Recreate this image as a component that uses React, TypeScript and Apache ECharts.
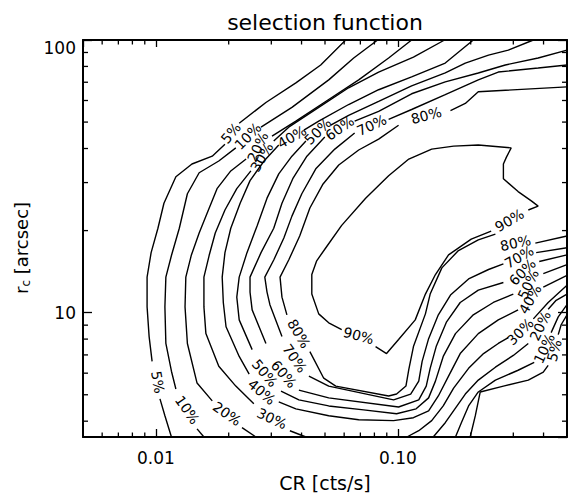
import React, { useEffect, useRef } from 'react';
import * as echarts from 'echarts';

// ---------- axes ----------
const xRange = [0.005, 0.5];
const yRange = [3.5, 100];
const xMinorTicks = [0.006, 0.007, 0.008, 0.009, 0.02, 0.03, 0.04, 0.05, 0.06, 0.07, 0.08, 0.09, 0.2, 0.3, 0.4];
const yMinorTicks = [4, 5, 6, 7, 8, 9, 20, 30, 40, 50, 60, 70, 80, 90];

const titleText = 'selection function';
const xName = 'CR [cts/s]';

// ---------- contour lines: [CR, r_c] points, split where a label sits ----------
const contour5 = [
  [[0.0609, 100], [0.048, 81.0], [0.0379, 69.6], [0.0285, 59.0], [0.0221, 49.5]],
  [[0.0193, 41.5], [0.0171, 37.5], [0.0141, 35.1], [0.0121, 31.5], [0.0108, 25.2], [0.0102, 20.4], [0.00956, 16.6], [0.0092, 13.5], [0.0092, 10.5], [0.00938, 8.17], [0.00965, 6.63]],
  [[0.0104, 4.83], [0.0109, 4.19], [0.0116, 3.5]],
];
const contour10 = [
  [[0.0825, 100], [0.0657, 85.9], [0.0518, 71.4], [0.0365, 56.6], [0.0272, 47.9]],
  [[0.0214, 40.2], [0.0182, 36.0], [0.0151, 32.6], [0.0135, 27.3], [0.0125, 20.4], [0.0116, 16.2], [0.011, 13.5], [0.0109, 10.5], [0.011, 7.71], [0.0116, 6.1], [0.0121, 5.25]],
  [[0.0148, 3.75], [0.0158, 3.5]],
];
const contour20 = [
  [[0.114, 100], [0.0916, 85.9], [0.0689, 71.4], [0.0518, 60.5], [0.0379, 50.4], [0.0302, 44.4]],
  [[0.0236, 36.6], [0.0204, 33.1], [0.0179, 28.5], [0.0163, 23.2], [0.0151, 19.6], [0.014, 16.2], [0.0133, 13.5], [0.0132, 10.5], [0.0135, 7.71], [0.0148, 5.52], [0.0171, 4.75]],
  [[0.0227, 3.79], [0.0259, 3.5]],
];
const contour30 = [
  [[0.156, 100], [0.116, 86.6], [0.0833, 76.3], [0.0626, 66.8], [0.0471, 56.6], [0.0354, 47.9], [0.0307, 42.6]],
  [[0.0247, 33.1], [0.0216, 28.5], [0.0193, 23.8], [0.0176, 19.6], [0.0166, 16.2], [0.0158, 13.5], [0.0158, 10.5], [0.0161, 8.38], [0.0182, 6.36], [0.0214, 5.38], [0.0254, 4.63]],
  [[0.0358, 3.69], [0.0417, 3.5]],
];
const contour40 = [
  [[0.205, 100], [0.157, 82.3], [0.114, 73.2], [0.0833, 65.7], [0.0626, 58.0], [0.0471, 50.4], [0.0409, 46.7]],
  [[0.0322, 41.2], [0.028, 36.0], [0.0245, 30.5], [0.0223, 25.2], [0.0204, 20.4], [0.0193, 16.6], [0.0188, 13.5], [0.019, 10.9], [0.0195, 8.88], [0.0221, 6.91], [0.0243, 5.95]],
  [[0.0322, 4.71], [0.0379, 4.44], [0.0518, 4.19], [0.0689, 4.05], [0.096, 4.02], [0.116, 4.12], [0.134, 4.36], [0.147, 4.95], [0.162, 5.85], [0.181, 7.08], [0.215, 8.38], [0.26, 9.41], [0.314, 10.24]],
  [[0.399, 12.4], [0.5, 13.7]],
];
const contour50 = [
  [[0.363, 100], [0.286, 91.8], [0.237, 88.0], [0.19, 82.3], [0.157, 75.7], [0.114, 67.9], [0.0833, 59.5], [0.0626, 52.9], [0.0528, 48.7]],
  [[0.0417, 42.6], [0.0365, 37.5], [0.0322, 32.3], [0.0288, 26.3], [0.0262, 20.8], [0.0238, 16.6], [0.0221, 13.5], [0.0216, 11.4], [0.0221, 9.41], [0.025, 7.32]],
  [[0.0329, 5.16], [0.039, 4.79], [0.0518, 4.55], [0.0722, 4.4], [0.0988, 4.26], [0.119, 4.44], [0.134, 4.87], [0.143, 5.61], [0.154, 6.91], [0.173, 8.38], [0.205, 9.82], [0.248, 10.9], [0.3, 11.7]],
  [[0.399, 13.9], [0.5, 15.0]],
];
const contour60 = [
  [[0.5, 91.8], [0.38, 85.9], [0.278, 81.0], [0.215, 75.7], [0.157, 70.2], [0.114, 63.5], [0.0833, 54.7], [0.0663, 50.4]],
  [[0.0499, 44.1], [0.0421, 37.5], [0.0368, 31.0], [0.0332, 25.2], [0.0307, 20.4], [0.0272, 16.6], [0.0245, 13.5], [0.0245, 11.9], [0.025, 10.24], [0.0285, 7.71]],
  [[0.039, 5.2], [0.0518, 4.87], [0.1007, 4.51], [0.122, 4.79], [0.131, 5.38], [0.136, 6.25], [0.144, 7.51], [0.159, 9.26], [0.181, 10.9], [0.215, 12.1], [0.273, 12.9]],
  [[0.384, 15.4], [0.5, 16.3]],
];
const contour70 = [
  [[0.5, 81.0], [0.38, 78.9], [0.26, 76.3], [0.215, 71.4], [0.157, 63.0], [0.114, 55.6], [0.0916, 51.2]],
  [[0.0663, 45.6], [0.0549, 39.8], [0.0458, 33.7], [0.0401, 27.3], [0.0365, 22.6], [0.0338, 18.8], [0.0307, 15.6], [0.0282, 13.5], [0.0288, 11.9], [0.0296, 10.7], [0.0332, 8.17]],
  [[0.0429, 5.85], [0.0518, 5.38], [0.096, 4.79], [0.113, 5.03], [0.122, 5.61], [0.126, 6.63], [0.134, 8.03], [0.147, 9.82], [0.165, 11.6], [0.196, 13.3], [0.237, 14.4], [0.273, 15.1]],
  [[0.373, 16.6], [0.5, 17.3]],
];
const contour80 = [
  [[0.5, 67.3], [0.215, 64.6], [0.19, 58.5], [0.165, 55.1]],
  [[0.1007, 48.7], [0.0833, 43.3], [0.0689, 39.5], [0.057, 34.8], [0.0489, 29.5], [0.0433, 24.2], [0.0393, 19.1], [0.0354, 15.6], [0.0326, 13.5], [0.0332, 11.4], [0.0348, 9.82]],
  [[0.0433, 7.2], [0.0494, 5.75], [0.0554, 5.38], [0.0916, 4.95], [0.0988, 5.03], [0.108, 5.38], [0.111, 6.2], [0.116, 7.51], [0.13, 9.9], [0.136, 11.7], [0.152, 14.6], [0.178, 16.9], [0.215, 18.5], [0.253, 19.4]],
  [[0.37, 18.0], [0.5, 19.1]],
];
const contour90 = [
  [[0.0586, 8.66], [0.0518, 9.18], [0.0471, 9.9], [0.0441, 11.7], [0.0441, 13.8], [0.0462, 15.5], [0.0504, 17.3], [0.0586, 20.9], [0.0736, 26.3], [0.0916, 31.8], [0.111, 36.6], [0.138, 39.8], [0.17, 40.8], [0.215, 41.2], [0.294, 40.2], [0.281, 37.2], [0.273, 35.1], [0.273, 31.0], [0.314, 27.8], [0.356, 25.7], [0.38, 24.6], [0.346, 23.8]],
  [[0.243, 19.9], [0.201, 18.6], [0.162, 16.3], [0.143, 13.8], [0.13, 11.7], [0.118, 9.41], [0.1007, 7.97], [0.0898, 7.08], [0.0809, 7.51]],
];
const contour30Right = [
  [[0.109, 3.5], [0.122, 3.69], [0.138, 4.02], [0.154, 4.55], [0.17, 5.29], [0.196, 6.25], [0.226, 7.08], [0.26, 7.71], [0.286, 8.1]],
  [[0.363, 9.49], [0.418, 10.9], [0.5, 12.6]],
];
const contour20Right = [
  [[0.14, 3.5], [0.157, 3.95], [0.173, 4.47], [0.19, 5.03], [0.215, 5.66], [0.253, 6.31], [0.3, 6.97], [0.346, 7.71]],
  [[0.418, 10.3], [0.451, 11.1], [0.5, 11.7]],
];
const contour10Right = [
  [[0.173, 3.5], [0.183, 3.95], [0.196, 4.55], [0.215, 5.12], [0.253, 5.66], [0.314, 6.15], [0.366, 6.57]],
  [[0.43, 8.45], [0.46, 9.65], [0.5, 10.7]],
];
const contour5Right = [
  [[0.199, 3.5], [0.209, 4.19], [0.219, 5.12], [0.273, 5.38], [0.346, 5.66], [0.399, 6.05], [0.418, 6.41]],
  [[0.46, 8.31], [0.473, 9.03], [0.5, 9.82]],
];

// ---------- contour labels: [text, CR, r_c, angle in degrees] ----------
const contourLabels: [string, number, number, number][] = [
  ['5%', 0.0204, 45.6, 50],
  ['10%', 0.024, 44.4, 45],
  ['20%', 0.0264, 40.5, 65],
  ['30%', 0.0274, 37.2, 60],
  ['40%', 0.0365, 44.1, 30],
  ['50%', 0.0467, 46.3, 45],
  ['60%', 0.0575, 47.5, 35],
  ['70%', 0.0779, 48.7, 25],
  ['80%', 0.131, 52.9, 15],
  ['5%', 0.0102, 5.56, -80],
  ['10%', 0.0135, 4.4, -55],
  ['20%', 0.0197, 4.26, -35],
  ['30%', 0.0302, 4.09, -25],
  ['40%', 0.0274, 5.12, -40],
  ['50%', 0.0282, 6.0, -50],
  ['60%', 0.0338, 5.95, -50],
  ['70%', 0.0375, 6.8, -55],
  ['80%', 0.039, 8.38, -60],
  ['90%', 0.0689, 8.24, -15],
  ['90%', 0.289, 21.8, 30],
  ['80%', 0.306, 18.0, 12],
  ['70%', 0.317, 16.0, 30],
  ['60%', 0.327, 14.1, 45],
  ['50%', 0.346, 12.7, 65],
  ['40%', 0.352, 11.2, 60],
  ['30%', 0.32, 8.52, 45],
  ['20%', 0.388, 8.95, 65],
  ['10%', 0.403, 7.39, 65],
  ['5%', 0.443, 7.26, 75],
];

const FONT = '"DejaVu Sans", sans-serif';

function isPow10(v: number) {
  const l = Math.log10(v);
  return Math.abs(l - Math.round(l)) < 1e-6;
}

export default function App() {
  const ref = useRef<HTMLDivElement>(null);

  useEffect(() => {
    if (!ref.current) return;
    const chart = echarts.init(ref.current, null, { renderer: 'svg' });

    const allSegments = [
      ...contour5, ...contour10, ...contour20, ...contour30, ...contour40,
      ...contour50, ...contour60, ...contour70, ...contour80, ...contour90,
      ...contour30Right, ...contour20Right, ...contour10Right, ...contour5Right,
    ];

    const lineSeries = allSegments.map((seg) => ({
      type: 'line',
      data: seg,
      showSymbol: false,
      symbol: 'none',
      silent: true,
      lineStyle: { color: '#000', width: 1.4 },
      z: 2,
    }));

    const axisLineStyle = { color: '#000', width: 2 };
    const tickStyle = { color: '#000', width: 1.3 };

    const option: any = {
      animation: false,
      backgroundColor: '#fff',
      grid: { left: 83, top: 40, right: 1, bottom: 55, containLabel: false },
      xAxis: [
        {
          type: 'log', logBase: 10, min: xRange[0], max: xRange[1], position: 'bottom',
          axisLine: { show: true, onZero: false, lineStyle: axisLineStyle },
          axisTick: { show: true, inside: true, length: 8, lineStyle: tickStyle },
          axisLabel: {
            show: true, color: '#000', fontSize: 17, fontFamily: FONT, margin: 12,
            showMinLabel: false, showMaxLabel: false,
            formatter: (v: number) => (isPow10(v) ? Math.pow(10, Math.round(Math.log10(v))).toFixed(2) : ''),
          },
          splitLine: { show: false },
          minorTick: { show: false },
          name: xName, nameLocation: 'middle', nameGap: 36,
          nameTextStyle: { color: '#000', fontSize: 19, fontFamily: FONT },
        },
        {
          type: 'log', logBase: 10, min: xRange[0], max: xRange[1], position: 'top',
          axisLine: { show: true, onZero: false, lineStyle: axisLineStyle },
          axisTick: { show: true, inside: true, length: 7, lineStyle: tickStyle },
          axisLabel: { show: false },
          splitLine: { show: false },
        },
      ],
      yAxis: [
        {
          type: 'log', logBase: 10, min: yRange[0], max: yRange[1], position: 'left',
          axisLine: { show: true, onZero: false, lineStyle: axisLineStyle },
          axisTick: { show: true, inside: true, length: 9, lineStyle: tickStyle },
          axisLabel: {
            show: true, color: '#000', fontSize: 17, fontFamily: FONT, margin: 7,
            showMinLabel: false,
            formatter: (v: number) => {
              if (!isPow10(v)) return '';
              const n = Math.round(Math.pow(10, Math.round(Math.log10(v))));
              return n >= 100 ? '{top|' + n + '}' : String(n);
            },
            rich: { top: { fontSize: 17, fontFamily: FONT, color: '#000', padding: [16, 0, 0, 0] } },
          },
          splitLine: { show: false },
        },
        {
          type: 'log', logBase: 10, min: yRange[0], max: yRange[1], position: 'right',
          axisLine: { show: true, onZero: false, lineStyle: axisLineStyle },
          axisTick: { show: true, inside: true, length: 9, lineStyle: tickStyle },
          axisLabel: { show: false },
          splitLine: { show: false },
        },
      ],
      graphic: [
        {
          type: 'text', x: 325, y: 22,
          style: { text: titleText, align: 'center', verticalAlign: 'middle', fill: '#000', font: '22px ' + FONT },
        },
        {
          type: 'group', x: 21, y: 248, rotation: Math.PI / 2,
          children: [
            { type: 'text', x: -46, y: 0, style: { text: 'r', align: 'left', verticalAlign: 'middle', fill: '#000', font: '18px ' + FONT } },
            { type: 'text', x: -38.6, y: 5, style: { text: 'c', align: 'left', verticalAlign: 'middle', fill: '#000', font: '12px ' + FONT } },
            { type: 'text', x: -32, y: 0, style: { text: ' [arcsec]', align: 'left', verticalAlign: 'middle', fill: '#000', font: '18px ' + FONT } },
          ],
        },
      ],
      series: [
        ...lineSeries,
        {
          type: 'custom',
          silent: true,
          clip: false,
          z: 5,
          data: xMinorTicks.map((v) => [v, yRange[0]]),
          renderItem: (params: any, api: any) => {
            const v = xMinorTicks[params.dataIndex];
            const b = api.coord([v, yRange[0]]);
            const t = api.coord([v, yRange[1]]);
            return {
              type: 'group',
              children: [
                { type: 'line', shape: { x1: b[0], y1: b[1], x2: b[0], y2: b[1] - 4.5 }, style: { stroke: '#000', lineWidth: 1.3 } },
                { type: 'line', shape: { x1: t[0], y1: t[1], x2: t[0], y2: t[1] + 4.5 }, style: { stroke: '#000', lineWidth: 1.3 } },
              ],
            };
          },
        },
        {
          type: 'custom',
          silent: true,
          clip: false,
          z: 5,
          data: yMinorTicks.map((v) => [xRange[0], v]),
          renderItem: (params: any, api: any) => {
            const v = yMinorTicks[params.dataIndex];
            const l = api.coord([xRange[0], v]);
            const r = api.coord([xRange[1], v]);
            return {
              type: 'group',
              children: [
                { type: 'line', shape: { x1: l[0], y1: l[1], x2: l[0] + 5, y2: l[1] }, style: { stroke: '#000', lineWidth: 1.3 } },
                { type: 'line', shape: { x1: r[0], y1: r[1], x2: r[0] - 5, y2: r[1] }, style: { stroke: '#000', lineWidth: 1.3 } },
              ],
            };
          },
        },
        {
          type: 'custom',
          silent: true,
          clip: false,
          z: 6,
          data: contourLabels.map((l) => [l[1], l[2]]),
          renderItem: (params: any, api: any) => {
            const lab = contourLabels[params.dataIndex];
            const p = api.coord([lab[1], lab[2]]);
            return {
              type: 'text',
              x: p[0], y: p[1],
              rotation: (lab[3] * Math.PI) / 180,
              style: { text: lab[0], align: 'center', verticalAlign: 'middle', fill: '#000', font: '14px ' + FONT },
            };
          },
        },
      ],
    };

    chart.setOption(option);
    return () => chart.dispose();
  }, []);

  return <div ref={ref} style={{ position: 'absolute', left: 0, top: 0, width: 568, height: 497 }} />;
}
